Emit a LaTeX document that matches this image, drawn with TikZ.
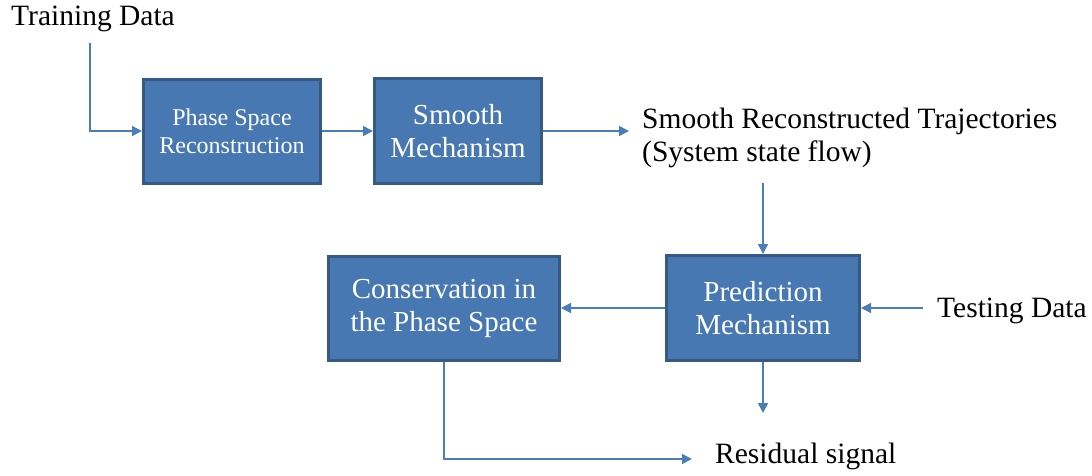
\documentclass[tikz,border=0pt]{standalone}
\usepackage{fontspec}
\setmainfont{Liberation Serif}
\usetikzlibrary{arrows.meta}

\definecolor{boxfill}{HTML}{4778B1}
\definecolor{boxline}{HTML}{365A84}
\definecolor{wire}{HTML}{4A7EBB}

\begin{document}
\begin{tikzpicture}[x=1pt,y=-1pt,
  block/.style={draw=boxline, fill=boxfill, line width=3pt, text=white,
    align=center, inner sep=0pt, font=\fontsize{29}{33}\selectfont},
  smallblock/.style={block, font=\fontsize{24}{28}\selectfont},
  label/.style={inner sep=0pt, text=black, font=\fontsize{29.5}{33}\selectfont},
  wireline/.style={draw=wire, line width=1.5pt,
    -{Triangle[length=10pt,width=10pt]}}
]
\useasboundingbox (0,0) rectangle (1092,475);

% processing blocks
\node[smallblock, minimum width=177pt, minimum height=104pt] (ps) at (232,131)
  {Phase Space\\Reconstruction};
\node[block, minimum width=167pt, minimum height=105pt] (sm) at (458,131)
  {Smooth\\Mechanism};
\node[block, minimum width=193pt, minimum height=105pt] (pm) at (763,308)
  {Prediction\\Mechanism};
\node[block, minimum width=231pt, minimum height=104pt] (cs) at (444,308)
  {Conservation in\\the Phase Space};

% free-standing labels
\node[label, anchor=base west] (train) at (11,25) {Training Data};
\node[label, anchor=west, align=left] (traj) at (642,138)
  {Smooth Reconstructed Trajectories\\(System state flow)};
\node[label, anchor=base west] (test) at (937,317) {Testing Data};
\node[label, anchor=base west] (resid) at (715,463) {Residual signal};

% connector end points
\coordinate (trainout) at (90,43);
\coordinate (trajin) at (629,131);
\coordinate (trajout) at (763,183);
\coordinate (testout) at (923,308);
\coordinate (predout) at (763,413);
\coordinate (residin) at (692,459);

% connectors
\draw[wireline] (trainout) |- (ps.west);
\draw[wireline] (ps.east) -- (sm.west);
\draw[wireline] (sm.east) -- (trajin);
\draw[wireline] (trajout) -- (pm.north);
\draw[wireline] (testout) -- (pm.east);
\draw[wireline] (pm.west) -- (cs.east);
\draw[wireline] (pm.south) -- (predout);
\draw[wireline] (cs.south) |- (residin);
\end{tikzpicture}
\end{document}
